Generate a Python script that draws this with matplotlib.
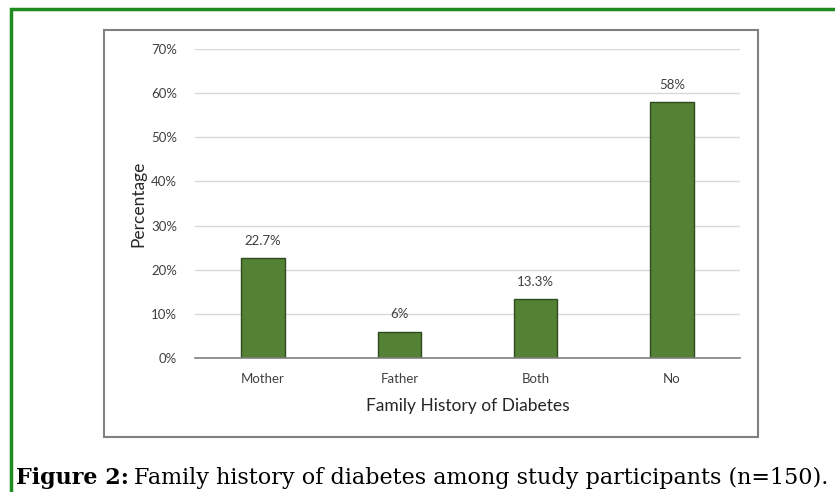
import matplotlib.pyplot as plt
from matplotlib.patches import Rectangle

categories = ["Mother", "Father", "Both", "No"]
values = [22.7, 6, 13.3, 58]
labels = ["22.7%", "6%", "13.3%", "58%"]
yticks = [0, 10, 20, 30, 40, 50, 60, 70]

W, H = 835, 492
fig = plt.figure(figsize=(W / 100, H / 100), dpi=100)
plt.rcParams['font.family'] = ['Lato', 'DejaVu Sans']

# outer green frame (runs off right and bottom edges)
fig.patches.append(Rectangle((11 / W, -0.05), 1.2, 0.05 + (H - 9) / H,
                             transform=fig.transFigure, fill=False,
                             edgecolor='#1e8c1e', linewidth=2.5))
# inner chart box
fig.patches.append(Rectangle((104 / W, (H - 437) / H), (758 - 104) / W, (437 - 30) / H,
                             transform=fig.transFigure, fill=False,
                             edgecolor='#808080', linewidth=1.5))

ax = fig.add_axes([195 / W, (H - 358) / H, (740 - 195) / W, (358 - 49) / H])
x = range(len(categories))
ax.bar(x, values, width=0.32, color='#548235', edgecolor='#2e4a1e', linewidth=1, zorder=3)
for i, v in enumerate(values):
    ax.annotate(labels[i], (i, v), xytext=(0, 8), textcoords='offset points',
                ha='center', va='bottom', fontsize=9.5, color='#404040')

ax.set_xlim(-0.5, 3.5)
ax.set_ylim(0, 70)
ax.set_yticks(yticks)
ax.set_yticklabels([f"{t}%" for t in yticks], fontsize=9.5, color='#404040')
ax.set_xticks(list(x))
ax.set_xticklabels(categories, fontsize=9.5, color='#404040')
ax.tick_params(axis='y', length=0, pad=13)
ax.tick_params(axis='x', length=0, pad=11)
ax.grid(axis='y', color='#d9d9d9', linewidth=1, zorder=0)
for s in ['top', 'right', 'left']:
    ax.spines[s].set_visible(False)
ax.spines['bottom'].set_color('#7f7f7f')
ax.spines['bottom'].set_linewidth(1.2)
ax.spines['bottom'].set_zorder(4)
ax.set_ylabel("Percentage", fontsize=12.5, color='#262626', labelpad=3)
ax.set_xlabel("Family History of Diabetes", fontsize=12.5, color='#262626', labelpad=9)

cap_y = (H - 478) / H
cap_size = 16
cap = fig.text(16 / W, cap_y, "Figure 2:", fontsize=cap_size, fontweight='bold',
               family='DejaVu Serif', va='center', ha='left')
rest = fig.text(0, cap_y, "Family history of diabetes among study participants (n=150).",
                fontsize=cap_size, family='DejaVu Serif', va='center', ha='left')
fig.canvas.draw()
r = fig.canvas.get_renderer()
total = cap.get_window_extent(r).width + 5 + rest.get_window_extent(r).width
scale = (832 - 16) / total
cap.set_fontsize(cap_size * scale)
rest.set_fontsize(cap_size * scale)
fig.canvas.draw()
rest.set_x((cap.get_window_extent(r).x1 + 5 * scale) / W)

fig.savefig("out.png", dpi=100)
